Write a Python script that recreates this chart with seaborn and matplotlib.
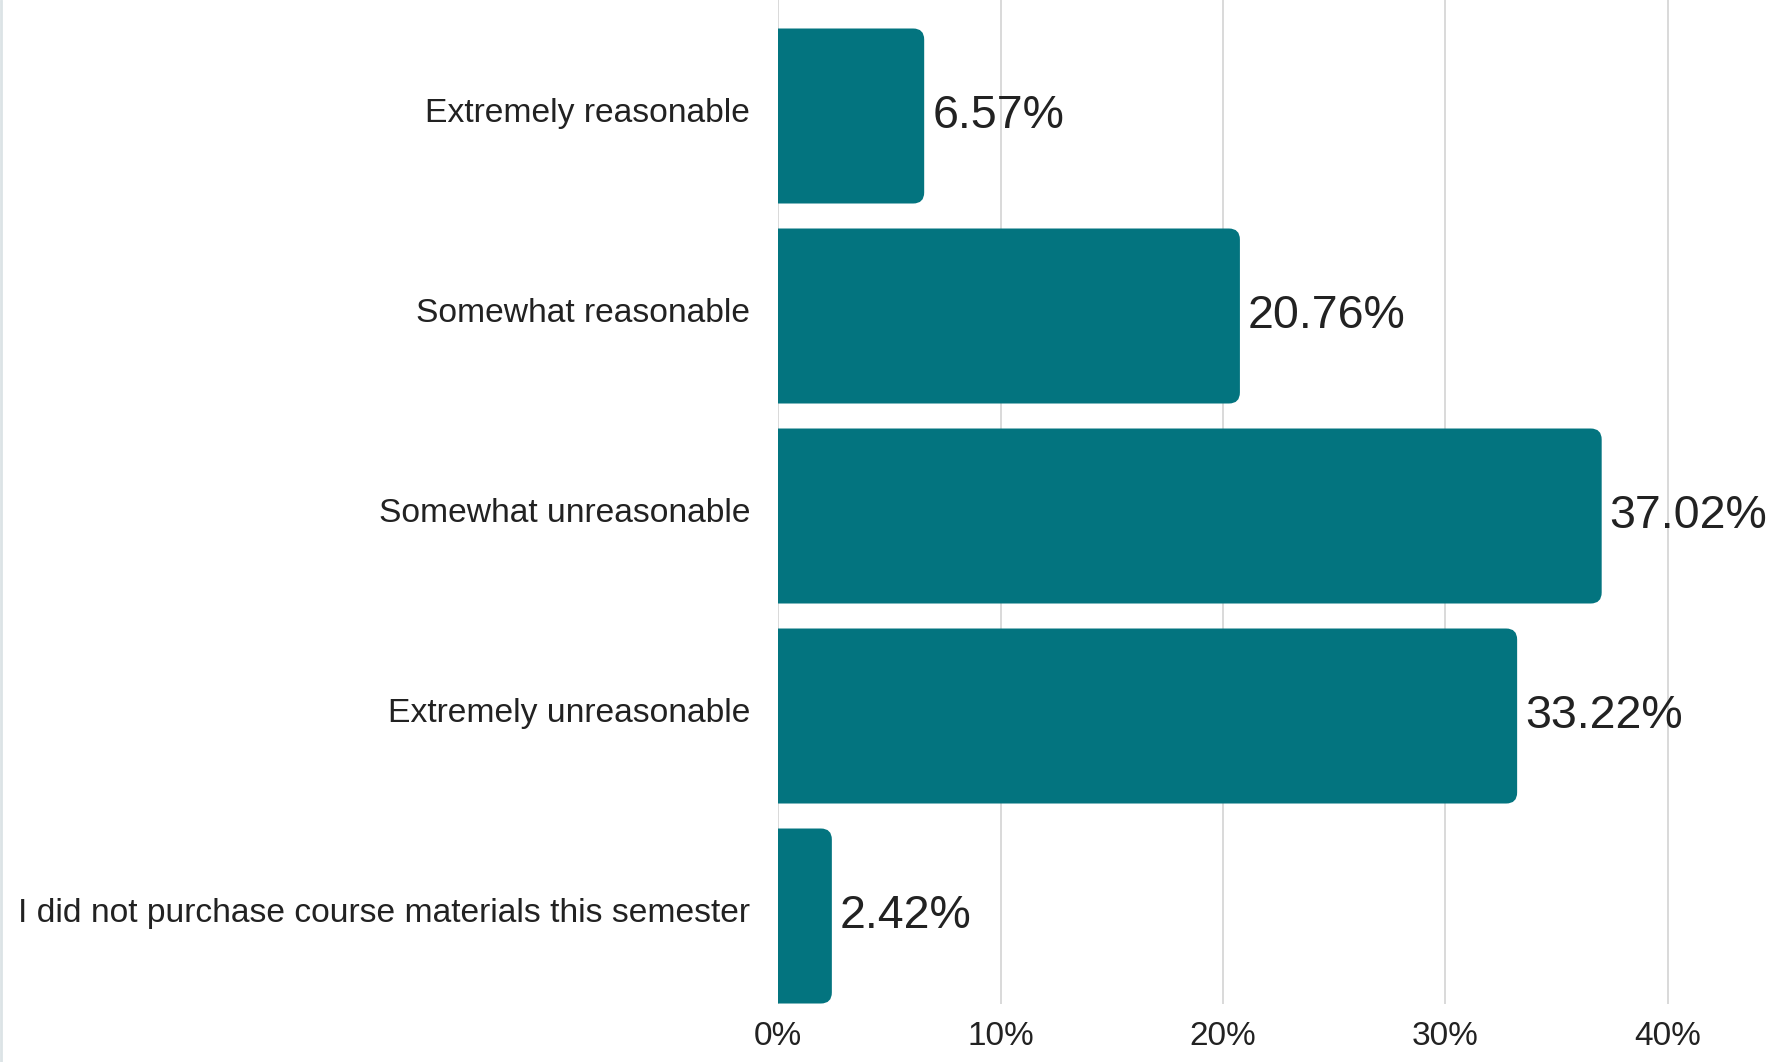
import matplotlib.pyplot as plt
import matplotlib.transforms as mtransforms
import pandas as pd
import seaborn as sns
from matplotlib.lines import Line2D
from matplotlib.patches import FancyBboxPatch
from matplotlib.ticker import FuncFormatter

# Survey answers and share of respondents (%)
categories = [
    "Extremely reasonable",
    "Somewhat reasonable",
    "Somewhat unreasonable",
    "Extremely unreasonable",
    "I did not purchase course materials this semester",
]
values = [6.57, 20.76, 37.02, 33.22, 2.42]
x_ticks = [0, 10, 20, 30, 40]

bar_color = "#03747f"
df = pd.DataFrame({"answer": categories, "share": values})

sns.set_style("white")
plt.rcParams["font.family"] = ["Liberation Sans", "DejaVu Sans"]

fig = plt.figure(figsize=(17.69, 10.62), dpi=100)
ax = fig.add_axes([0.4398, 0.0546, 0.5602, 0.9454])

sns.barplot(data=df, x="share", y="answer", color=bar_color, width=0.875,
            saturation=1, ax=ax, zorder=2)

ax.set_xlim(0, 44.54)
ax.set_ylim(4.44, -0.58)

# swap plain bars for bars with rounded right-hand corners
px_x = ax.get_position().width * 1769 / 44.54
px_y = ax.get_position().height * 1062 / 5.02
radius = 11 / px_x
for bar in list(ax.patches):
    x0, y0 = bar.get_x(), bar.get_y()
    w, h = bar.get_width(), bar.get_height()
    bar.remove()
    rounded = FancyBboxPatch((x0 - 2, y0), w + 2, h,
                             boxstyle=f"round,pad=0,rounding_size={radius}",
                             mutation_aspect=px_x / px_y,
                             facecolor=bar_color, edgecolor="none", zorder=2)
    ax.add_patch(rounded)

for i, v in enumerate(values):
    ax.text(v + 8 / px_x, i, f"{v:.2f}%", va="center", ha="left",
            fontsize=33.5, color="#222222", clip_on=False)

ax.set_xticks(x_ticks)
ax.xaxis.set_major_formatter(FuncFormatter(lambda v, p: f"{v:.0f}%"))
ax.grid(axis="x", color="#d9d9d9", linewidth=1.4, zorder=0)
ax.grid(axis="y", visible=False)
ax.tick_params(axis="x", length=0, pad=12, labelsize=24, labelcolor="#222222")
ax.tick_params(axis="y", length=0, pad=20, labelsize=24.2, labelcolor="#222222")
ax.set_xlabel("")
ax.set_ylabel("")
sns.despine(ax=ax, left=True, bottom=True)

# category labels sit a little above the bar centres
shift = mtransforms.ScaledTranslation(0, 6 / 100, fig.dpi_scale_trans)
for lbl in ax.get_yticklabels():
    lbl.set_transform(lbl.get_transform() + shift)

# thin frame line on the left edge of the image
fig.add_artist(Line2D([0.0008, 0.0008], [0, 1], color="#dce3e6", linewidth=2,
                      transform=fig.transFigure))

fig.savefig("out.png", dpi=100)
